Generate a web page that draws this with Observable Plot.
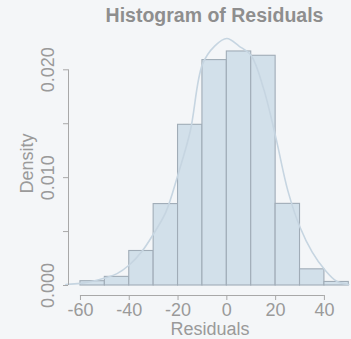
<!DOCTYPE html>
<html>
<head>
<meta charset="utf-8">
<script src="https://cdn.jsdelivr.net/npm/d3@7"></script>
<script src="https://cdn.jsdelivr.net/npm/@observablehq/plot@0.6"></script>
<style>
  html, body { margin: 0; padding: 0; background: #f4f6f8; overflow: hidden; }
  #chart { position: relative; width: 351px; height: 339px; }
  #title {
    position: absolute; left: 214.5px; top: 3px; transform: translateX(-50%); white-space: nowrap;
    font: bold 19.5px "Liberation Sans", Arial, sans-serif; color: #8e8e8e; line-height: 24px;
  }
</style>
</head>
<body>
<div id="chart"><div id="title">Histogram of Residuals</div></div>
<script>
// Histogram bins of the residuals (width 10) and their densities
const binStarts = [-60, -50, -40, -30, -20, -10, 0, 10, 20, 30, 40];
const binWidth = 10;
const densities = [0.0004, 0.0008, 0.0032, 0.00755, 0.0149, 0.0209, 0.0217, 0.0213, 0.00757, 0.0015, 0.00033];

// Smoothed density curve of the residuals
const curveX = [-66, -60, -55, -50, -45, -40, -35, -30, -25, -20, -15, -10, -5, 0, 5, 10, 15, 20, 25, 30, 35, 40, 45, 50];
const curveY = [0.0001, 0.0002, 0.0004, 0.0007, 0.0011, 0.0019, 0.0031, 0.0048, 0.0068, 0.0103, 0.0143, 0.0205, 0.0222, 0.0229, 0.0222, 0.0213, 0.0183, 0.0138, 0.0088, 0.0054, 0.0031, 0.0015, 0.0004, 0.0001];

// Axis ticks
const xTicks = [-60, -40, -20, 0, 20, 40];
const yTicks = [0, 0.005, 0.010, 0.015, 0.020];
const yLabels = [0, 0.010, 0.020];

const bins = binStarts.map((s, i) => ({x1: s, x2: s + binWidth, density: densities[i]}));
const curve = curveX.map((x, i) => ({x, y: curveY[i]}));

const textColor = "#9a9a9a";
const axisColor = "#a8a8a8";
const font = "Liberation Sans, Arial, sans-serif";
const xMin = -64.9, yMin = -0.000927;

const plot = Plot.plot({
  width: 351,
  height: 339,
  marginLeft: 68,
  marginRight: 0,
  marginTop: 30,
  marginBottom: 44,
  style: {background: "transparent", fontFamily: font, fontSize: "18px", color: textColor},
  x: {type: "linear", domain: [xMin, 51.1]},
  y: {type: "linear", domain: [yMin, 0.023644]},
  marks: [
    Plot.rectY(bins, {x1: "x1", x2: "x2", y: "density", fill: "#d2e0ea", stroke: "#a0acb7", strokeWidth: 1.1}),
    Plot.line(curve, {x: "x", y: "y", stroke: "#c6d5e1", strokeWidth: 1.6, curve: "catmull-rom"}),
    // x axis: line spans first to last tick
    Plot.ruleY([yMin], {x1: xTicks[0], x2: xTicks[xTicks.length - 1], stroke: axisColor}),
    Plot.axisX({ticks: xTicks, tickSize: 5, tickPadding: 3, tickFormat: d => String(d), stroke: axisColor, fill: textColor, label: null, fontSize: 18}),
    Plot.text(["Residuals"], {frameAnchor: "bottom", dy: 34, fill: textColor, fontSize: 18, lineAnchor: "middle"}),
    // y axis: line spans first to last tick, labels rotated
    Plot.ruleX([xMin], {y1: yTicks[0], y2: yTicks[yTicks.length - 1], stroke: axisColor}),
    Plot.axisY({ticks: yTicks, tickSize: 5, tickFormat: () => "", stroke: axisColor, label: null}),
    Plot.text(yLabels, {y: d => d, frameAnchor: "left", dx: -20, rotate: -90, text: d => d3.format(".3f")(d), fill: textColor, fontSize: 18, textAnchor: "middle", lineAnchor: "middle"}),
    Plot.text(["Density"], {y: () => 0.01131, frameAnchor: "left", dx: -41, rotate: -90, fill: textColor, fontSize: 18, textAnchor: "middle", lineAnchor: "middle"})
  ]
});
document.getElementById("chart").appendChild(plot);
</script>
</body>
</html>
